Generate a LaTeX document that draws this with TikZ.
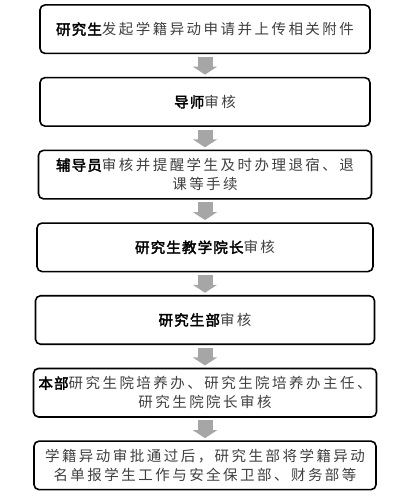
\documentclass[tikz,border=0pt]{standalone}
\usepackage{fontspec}
\usepackage{xcolor}
\usepackage{tikz}
\usetikzlibrary{arrows.meta, positioning}

\newfontfamily\cjk[LetterSpace=17]{Noto Sans CJK SC}
\newfontfamily\cjkbold[LetterSpace=8,FakeBold=2.5]{Noto Sans CJK SC}
\newcommand{\hd}[1]{{\cjkbold\color{black}#1}}

\begin{document}
\begin{tikzpicture}[
    x=1pt, y=1pt,
    node distance=24.2pt,
    % process boxes - plain black frame
    box/.style={
        rectangle, draw=black, rounded corners=5pt,
        minimum height=48.5pt, inner sep=1pt, outer sep=0pt,
        align=center, fill=white, line width=1.6pt,
        font=\cjk\fontsize{14.5}{19}\selectfont, text=black!75
    },
    % block arrows between boxes - gray
    arrow/.style={-{Triangle[width=24pt, length=8pt]}, draw=gray!70, fill=gray!70,
        line width=15pt, shorten <=3.5pt, shorten >=3pt},
]
\useasboundingbox (0,0) rectangle (413,-500);

% steps, top to bottom
\node[box, minimum width=330pt] (apply) at (205,-29.2) {\hd{研究生}发起学籍异动申请并上传相关附件};
\node[box, minimum width=330pt, below=of apply] (tutor) {\hd{导师}审核};
\node[box, minimum width=333pt, below=of tutor] (counselor) {\hd{辅导员}审核并提醒学生及时办理退宿、退\\课等手续};
\node[box, minimum width=336pt, below=of counselor] (dean) {\hd{研究生教学院长}审核};
\node[box, minimum width=339pt, below=of dean] (office) {\hd{研究生部}审核};
\node[box, minimum width=343pt, below=of office] (school) {\hd{本部}研究生院培养办、研究生院培养办主任、\\研究生院院长审核};
\node[box, minimum width=342pt, below=of school] (notify) {学籍异动审批通过后，研究生部将学籍异动\\名单报学生工作与安全保卫部、财务部等};

% arrows
\draw[arrow] (apply) -- (tutor);
\draw[arrow] (tutor) -- (counselor);
\draw[arrow] (counselor) -- (dean);
\draw[arrow] (dean) -- (office);
\draw[arrow] (office) -- (school);
\draw[arrow] (school) -- (notify);

\end{tikzpicture}
\end{document}
